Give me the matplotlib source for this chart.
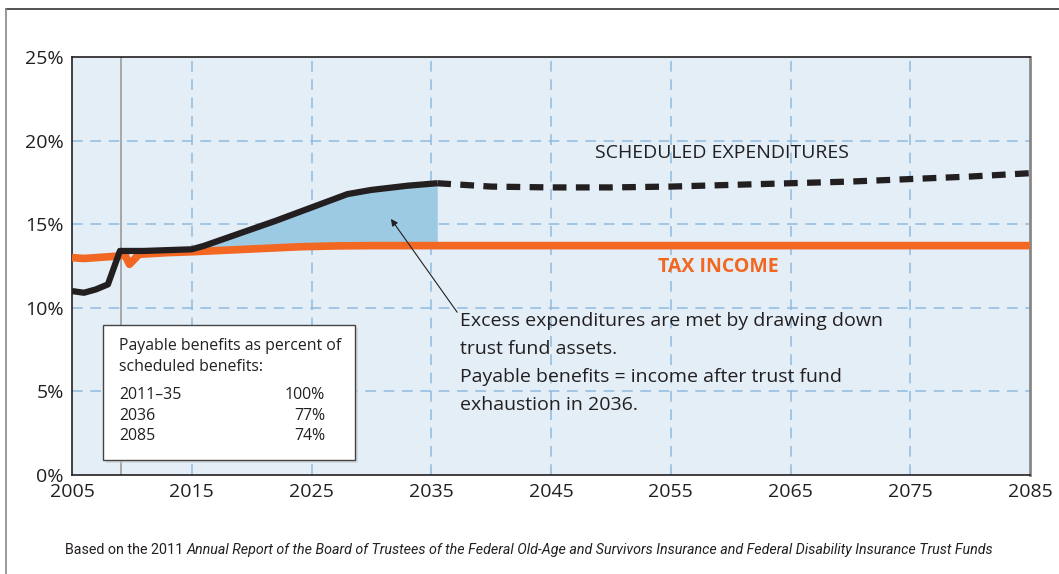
import matplotlib
matplotlib.use("Agg")
import matplotlib.pyplot as plt
import numpy as np
from matplotlib.patches import Rectangle
from matplotlib.lines import Line2D

plt.rcParams['font.family'] = ['Open Sans', 'DejaVu Sans']

# Data (percent of taxable payroll)
income_years = [2005, 2006, 2007, 2008, 2009, 2009.4, 2009.8, 2010.6, 2013, 2015, 2018, 2021, 2024, 2027, 2030, 2035, 2045, 2055, 2065, 2075, 2085]
income_vals = [13.0, 12.95, 13.0, 13.05, 13.1, 13.2, 12.6, 13.2, 13.3, 13.35, 13.45, 13.55, 13.65, 13.7, 13.72, 13.72, 13.72, 13.72, 13.72, 13.72, 13.72]

cost_years = [2005, 2006, 2007, 2008, 2009, 2010, 2011, 2013, 2015, 2016, 2018, 2020, 2022, 2025, 2028, 2030, 2033, 2035.5]
cost_vals = [11.0, 10.9, 11.1, 11.4, 13.4, 13.4, 13.4, 13.45, 13.5, 13.7, 14.2, 14.7, 15.2, 16.0, 16.8, 17.05, 17.3, 17.45]

sched_years = [2035.5, 2040, 2045, 2050, 2055, 2060, 2065, 2070, 2075, 2080, 2085]
sched_vals = [17.45, 17.25, 17.2, 17.2, 17.25, 17.35, 17.45, 17.55, 17.7, 17.85, 18.05]

y_ticks = [0, 5, 10, 15, 20, 25]
x_ticks = [2005, 2015, 2025, 2035, 2045, 2055, 2065, 2075, 2085]

orange = '#f26722'
black = '#231f20'
fillc = '#9dcae3'
bg = '#e3eef7'
gridc = '#8fbade'

W, H = 1059, 574
fig = plt.figure(figsize=(W / 100, H / 100), dpi=100)
ax = fig.add_axes([72 / W, 1 - 475 / H, 958 / W, 418 / H])
ax.set_facecolor(bg)
ax.set_xlim(2005, 2085)
ax.set_ylim(0, 25)

# grid
for y in [5, 10, 15, 20]:
    ax.axhline(y, color=gridc, lw=1.1, ls=(0, (7, 5)), zorder=1)
for x in x_ticks[1:-1]:
    ax.axvline(x, color=gridc, lw=1.1, ls=(0, (7, 5)), zorder=1)
ax.axvline(2009.1, color='#9a9a9a', lw=1.2, zorder=1.5)

# shaded area
fy = np.linspace(2012, 2035.5, 200)
c = np.interp(fy, cost_years, cost_vals)
inc = np.interp(fy, income_years, income_vals)
ax.fill_between(fy, inc, np.maximum(c, inc), color=fillc, lw=0, zorder=2)

ax.plot(income_years, income_vals, color=orange, lw=5.5, solid_capstyle='butt', solid_joinstyle='round', zorder=3)
ax.plot(cost_years, cost_vals, color=black, lw=4.5, solid_capstyle='butt', solid_joinstyle='round', zorder=4)
ax.plot(sched_years, sched_vals, color=black, lw=4.5, ls=(0, (2.2, 1.5)), dash_capstyle='butt', zorder=4)

ax.set_xticks(x_ticks)
ax.set_yticks(y_ticks)
ax.set_yticklabels([f'{v}%' for v in y_ticks])
ax.tick_params(length=0, labelsize=14, colors=black, pad=6)
for s in ['top', 'left', 'bottom']:
    ax.spines[s].set_color(black)
    ax.spines[s].set_linewidth(1.2)
ax.spines['right'].set_color('#888888')
ax.spines['right'].set_linewidth(2)

ax.text(2059.25, 19.25, 'SCHEDULED EXPENDITURES', fontsize=14, color=black, ha='center', va='center')
ax.text(2059.0, 12.45, 'TAX INCOME', fontsize=14, color=orange, ha='center', va='center', fontweight='bold')

ax.annotate('', xy=(2031.5, 15.45), xytext=(2037.3, 9.6),
            arrowprops=dict(arrowstyle='-|>', color=black, lw=0.8, mutation_scale=10), zorder=5)
ax.text(2037.4, 9.75, 'Excess expenditures are met by drawing down\ntrust fund assets.\nPayable benefits = income after trust fund\nexhaustion in 2036.',
        fontsize=14, color=black, ha='left', va='top', linespacing=1.72, zorder=5)

# info box
bx0, by0, bw, bh = 103, 325, 252, 135
fig.patches.append(Rectangle(((bx0 + 3) / W, 1 - (by0 + bh + 3) / H), bw / W, bh / H,
                             transform=fig.transFigure, facecolor='#c8ccd0', edgecolor='none', alpha=0.6, zorder=5))
fig.patches.append(Rectangle((bx0 / W, 1 - (by0 + bh) / H), bw / W, bh / H,
                             transform=fig.transFigure, facecolor='white', edgecolor='#444444', lw=1, zorder=6))
tx = 119 / W
fig.text(tx, 1 - 346 / H, 'Payable benefits as percent of', fontsize=11.4, color=black, va='center', zorder=7)
fig.text(tx, 1 - 367 / H, 'scheduled benefits:', fontsize=11.4, color=black, va='center', zorder=7)
rows = [('2011\u201335', '100%'), ('2036', '77%'), ('2085', '74%')]
for i, (a, b) in enumerate(rows):
    yy = 1 - (395 + i * 20.5) / H
    fig.text(tx, yy, a, fontsize=11.4, color=black, va='center', zorder=7)
    fig.text(325 / W, yy, b, fontsize=11.4, color=black, va='center', ha='right', zorder=7)

# outer frame
fig.add_artist(Line2D([6 / W, 1], [1 - 9 / H, 1 - 9 / H], transform=fig.transFigure, color='#333333', lw=1.2))
fig.add_artist(Line2D([6 / W, 6 / W], [0, 1 - 9 / H], transform=fig.transFigure, color='#888888', lw=1.2))

# caption, sized to fit the reference width
cap_fam = ['Roboto', 'DejaVu Sans']
r = fig.canvas.get_renderer()
t1 = fig.text(65 / W, 1 - 550 / H, 'Based on the 2011 ', fontsize=10, color=black, va='center', family=cap_fam)
t2 = fig.text(0, 1 - 550 / H,
              'Annual Report of the Board of Trustees of the Federal Old-Age and Survivors Insurance and Federal Disability Insurance Trust Funds',
              fontsize=10, color=black, va='center', style='italic', family=cap_fam)
w = t1.get_window_extent(renderer=r).width + t2.get_window_extent(renderer=r).width
fs = 10 * 928 / w
t1.set_fontsize(fs)
t2.set_fontsize(fs)
bb = t1.get_window_extent(renderer=r)
t2.set_x(bb.x1 / W)

fig.savefig('out.png', dpi=100)
